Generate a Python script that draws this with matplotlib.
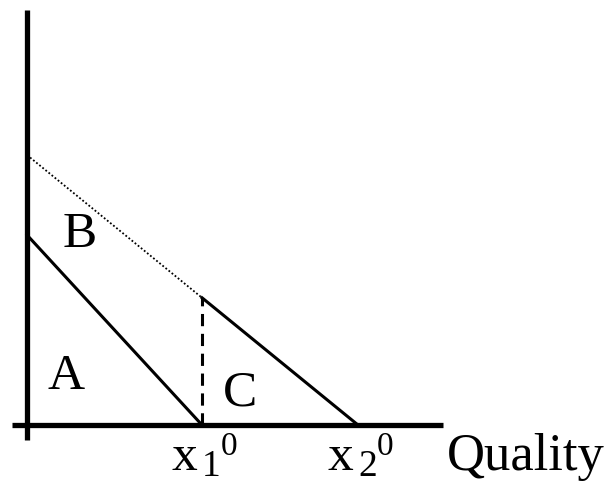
import matplotlib.pyplot as plt

# Diagram values (pixel-like units measured from the origin)
x1_0 = 175          # first quality threshold
x2_0 = 331          # second quality threshold
a1 = 190            # intercept of the inner (solid) line
a2 = 270            # intercept of the outer line
axis_len_x = 416
axis_len_y = 415

region_labels = ["A", "B", "C"]
region_pos = [(21, 36), (36, 178), (196, 20)]

font = "Liberation Serif"

fig = plt.figure(figsize=(6.11, 4.84), dpi=100)
ax = fig.add_axes([0, 0, 1, 1])
ax.set_xlim(-27, 584)
ax.set_ylim(-59, 425)
ax.axis("off")

# axes
ax.plot([-15, axis_len_x], [0, 0], color="black", lw=3.8, solid_capstyle="butt")
ax.plot([0, 0], [-15, axis_len_y], color="black", lw=3.8, solid_capstyle="butt")

# inner line A
ax.plot([0, x1_0], [a1, 0], color="black", lw=2.2)

# outer line: dotted part up to x1_0, solid part after
y_at_x1 = a2 * (1 - x1_0 / x2_0)
ax.plot([0, x1_0], [a2, y_at_x1], color="black", lw=1.3, linestyle=(0, (1, 1.2)))
ax.plot([x1_0, x2_0], [y_at_x1, 0], color="black", lw=2.2)

# dashed vertical at x1_0
ax.plot([x1_0, x1_0], [0, y_at_x1], color="black", lw=2.2,
        linestyle=(0, (4, 2.5)), dash_capstyle="butt")

for lab, (lx, ly) in zip(region_labels, region_pos):
    ax.text(lx, ly, lab, fontsize=37, family=font, ha="left", va="baseline")

# tick labels x_1^0, x_2^0
for xpos, sub in [(x1_0, "1"), (x2_0, "2")]:
    ax.text(xpos - 30, -45, "x", fontsize=37, family=font, ha="left", va="baseline")
    ax.text(xpos + 0, -51, sub, fontsize=27, family=font, ha="left", va="baseline")
    ax.text(xpos + 19, -30, "0", fontsize=24, family=font, ha="left", va="baseline")

ax.text(420, -45, "Quality", fontsize=38, family=font, ha="left", va="baseline")

fig.savefig("out.png", dpi=100)
